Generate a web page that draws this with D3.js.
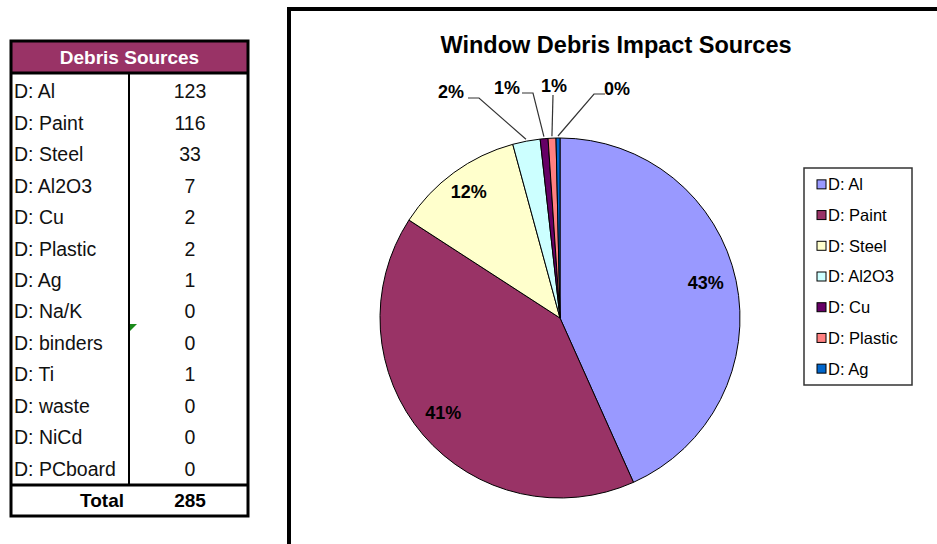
<!DOCTYPE html>
<html><head><meta charset="utf-8">
<script src="https://cdn.jsdelivr.net/npm/d3@7"></script>
<style>body{margin:0;background:#fff;} svg{display:block;font-family:"Liberation Sans",Arial,sans-serif;}</style>
</head><body><svg id="c" width="937" height="544"></svg>
<script>
const tableCategories = ["D: Al","D: Paint","D: Steel","D: Al2O3","D: Cu","D: Plastic","D: Ag","D: Na/K","D: binders","D: Ti","D: waste","D: NiCd","D: PCboard"];
const tableValues = [123,116,33,7,2,2,1,0,0,1,0,0,0];
const pieCategories = ["D: Al","D: Paint","D: Steel","D: Al2O3","D: Cu","D: Plastic","D: Ag"];
const pieValues = [123,116,33,7,2,2,1];
const pieColors = ["#9999FF","#993366","#FFFFCC","#CCFFFF","#660066","#FF8080","#0066CC"];
const tableTitle = "Debris Sources";
const chartTitle = "Window Debris Impact Sources";
const totalLabel = "Total";

const svg = d3.select("#c");

// ---------- Table ----------
const tX = 11, tW = 237, tTop = 41, hdrH = 32, bodyTop = 73, bodyBot = 485, tBot = 516, colX = 129;
const g = svg.append("g");
g.append("rect").attr("x", tX).attr("y", tTop).attr("width", tW).attr("height", hdrH).attr("fill", "#993366");
g.append("text").attr("x", tX + tW/2).attr("y", tTop + hdrH/2).attr("dy", ".36em")
  .attr("text-anchor", "middle").attr("font-weight", "bold").attr("font-size", 19).attr("fill", "#fff").text(tableTitle);
const rowY = d3.scaleBand().domain(tableCategories).range([bodyTop + 2, bodyBot - 1]);
g.selectAll("text.lab").data(tableCategories).join("text").attr("class", "lab")
  .attr("x", 14).attr("y", d => rowY(d) + rowY.bandwidth()/2 + 0.5).attr("dy", ".36em")
  .attr("font-size", 19.5).attr("fill", "#111").text(d => d);
g.selectAll("text.val").data(tableValues).join("text").attr("class", "val")
  .attr("x", 190).attr("y", (d, i) => rowY(tableCategories[i]) + rowY.bandwidth()/2 + 0.5).attr("dy", ".36em")
  .attr("text-anchor", "middle").attr("font-size", 19.5).attr("fill", "#111").text(d => d);
g.append("text").attr("x", 124).attr("y", (bodyBot + tBot)/2).attr("dy", ".36em").attr("text-anchor", "end")
  .attr("font-weight", "bold").attr("font-size", 19).text(totalLabel);
g.append("text").attr("x", 190).attr("y", (bodyBot + tBot)/2).attr("dy", ".36em").attr("text-anchor", "middle")
  .attr("font-weight", "bold").attr("font-size", 19).text(d3.sum(tableValues));
g.append("line").attr("x1", colX).attr("x2", colX).attr("y1", bodyTop).attr("y2", bodyBot).attr("stroke", "#000").attr("stroke-width", 2);
g.append("line").attr("x1", tX).attr("x2", tX + tW).attr("y1", bodyTop).attr("y2", bodyTop).attr("stroke", "#000").attr("stroke-width", 3);
g.append("line").attr("x1", tX).attr("x2", tX + tW).attr("y1", bodyBot).attr("y2", bodyBot).attr("stroke", "#000").attr("stroke-width", 3);
g.append("rect").attr("x", tX).attr("y", tTop).attr("width", tW).attr("height", tBot - tTop)
  .attr("fill", "none").attr("stroke", "#000").attr("stroke-width", 3);
// comment indicator
g.append("path").attr("d", "M130,324L137,324L130,331Z").attr("fill", "#1a8a1a");

// ---------- Chart box ----------
svg.append("rect").attr("x", 289).attr("y", 9).attr("width", 800).attr("height", 700)
  .attr("fill", "#fff").attr("stroke", "#000").attr("stroke-width", 4);
svg.append("text").attr("x", 616).attr("y", 53).attr("text-anchor", "middle")
  .attr("font-weight", "bold").attr("font-size", 23.5).attr("fill", "#000").text(chartTitle);

// ---------- Pie ----------
const cx = 560, cy = 318, R = 180;
const total = d3.sum(pieValues);
const pie = d3.pie().sort(null).value(d => d)(pieValues);
const color = d3.scaleOrdinal().domain(pieCategories).range(pieColors);
const arc = d3.arc().innerRadius(0).outerRadius(R);
const pg = svg.append("g").attr("transform", `translate(${cx},${cy})`);
pg.selectAll("path").data(pie).join("path")
  .attr("d", arc).attr("fill", (d, i) => color(pieCategories[i]))
  .attr("stroke", "#000").attr("stroke-width", 1).attr("stroke-linejoin", "round");
const pct = v => Math.round(v / total * 100) + "%";
const labArc = d3.arc().innerRadius(R * 0.84).outerRadius(R * 0.84);
const edgeArc = d3.arc().innerRadius(R + 2).outerRadius(R + 2);
// inside labels for the three largest slices
pie.slice(0, 3).forEach(d => {
  const [x, y] = labArc.centroid(d);
  pg.append("text").attr("x", x - 2).attr("y", y - 4).attr("dy", ".36em").attr("text-anchor", "middle")
    .attr("font-weight", "bold").attr("font-size", 18).attr("fill", "#000").text(pct(d.value));
});
// outside labels with leader lines (layout in page coordinates)
const outside = [
  {i: 3, tx: 451, ty: 98, elbow: [[479, 98], [468, 98]]},
  {i: 4, tx: 507, ty: 94, elbow: [[533, 93], [522, 93]]},
  {i: 5, tx: 554, ty: 92, elbow: [[553, 95]]},
  {i: 6, tx: 617, ty: 95, elbow: [[594, 94], [605, 94]]}
];
outside.forEach(o => {
  const d = pie[o.i];
  const [ex, ey] = edgeArc.centroid(d);
  const pts = [[ex + cx, ey + cy], ...o.elbow];
  svg.append("path").attr("d", d3.line()(pts)).attr("fill", "none").attr("stroke", "#333").attr("stroke-width", 1.2);
  svg.append("text").attr("x", o.tx).attr("y", o.ty).attr("text-anchor", "middle")
    .attr("font-weight", "bold").attr("font-size", 18).attr("fill", "#000").text(pct(d.value));
});

// ---------- Legend ----------
const lx = 804, ly = 168, lw = 108, lh = 217;
svg.append("rect").attr("x", lx).attr("y", ly).attr("width", lw).attr("height", lh)
  .attr("fill", "#fff").attr("stroke", "#333").attr("stroke-width", 1.5);
const legY = d3.scaleBand().domain(pieCategories).range([ly + 1, ly + lh - 1]);
const lg = svg.append("g");
lg.selectAll("rect").data(pieCategories).join("rect")
  .attr("x", 817).attr("y", d => legY(d) + legY.bandwidth()/2 - 4.5).attr("width", 9).attr("height", 9)
  .attr("fill", d => color(d)).attr("stroke", "#000").attr("stroke-width", 1);
lg.selectAll("text").data(pieCategories).join("text")
  .attr("x", 828).attr("y", d => legY(d) + legY.bandwidth()/2).attr("dy", ".36em")
  .attr("font-size", 16.5).attr("fill", "#000").text(d => d);
</script></body></html>
